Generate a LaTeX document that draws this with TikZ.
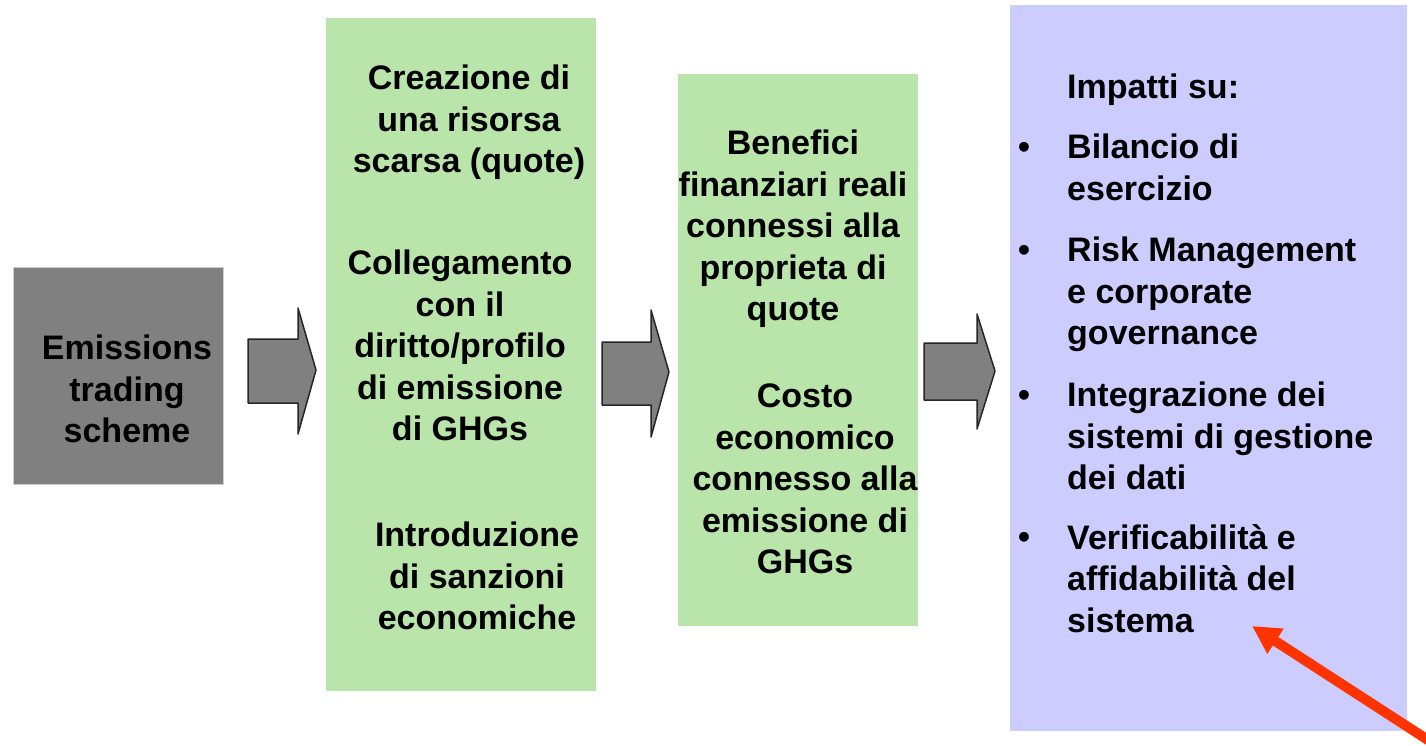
\documentclass[tikz,border=0pt]{standalone}
\usepackage{fontspec}
\setmainfont{Liberation Sans}
\usetikzlibrary{arrows.meta}
\definecolor{boxgreen}{RGB}{185,228,170}
\definecolor{boxpurple}{RGB}{204,204,255}
\definecolor{arrowgray}{RGB}{128,128,128}
\definecolor{redarrow}{RGB}{255,51,0}
\definecolor{graybox}{RGB}{128,128,128}
\definecolor{grayedge}{RGB}{205,205,205}
\begin{document}
\begin{tikzpicture}[x=1pt,y=-1pt,
  panel/.style={inner sep=0pt, outer sep=0pt, anchor=north west},
  txt/.style={inner sep=0pt, font=\fontsize{34}{41.5}\selectfont\bfseries, align=center, anchor=north},
  ltxt/.style={inner sep=0pt, font=\fontsize{34}{41.5}\selectfont\bfseries, align=left, anchor=north west},
  bul/.style={inner sep=0pt, font=\fontsize{34}{41.5}\selectfont\bfseries, anchor=base},
  blockarrow/.style={fill=arrowgray, draw=black!85, line width=1.5pt, line join=round},
  redarr/.style={draw=redarrow, line width=10pt, -{Triangle[length=28pt,width=28pt]}}
]
\useasboundingbox (0,0) rectangle (1426,746);
\clip (0,0) rectangle (1426,746);
\fill[white] (0,0) rectangle (1426,746);

% panels
\node[panel, fill=graybox, draw=grayedge, line width=0.8pt, minimum width=210pt, minimum height=217pt] (ets) at (13,267) {};
\node[panel, fill=boxgreen, minimum width=270pt, minimum height=673pt] (g1) at (326,18) {};
\node[panel, fill=boxgreen, minimum width=240pt, minimum height=552pt] (g2) at (678,74) {};
\node[panel, fill=boxpurple, minimum width=397pt, minimum height=726pt] (pu) at (1010,5) {};

% texts
\node[txt] (etstxt) at (127,335) {Emissions\\trading\\scheme};
\node[txt] (t1) at (469,65) {Creazione di\\una risorsa\\scarsa (quote)};
\node[txt] (t2) at (460,250) {Collegamento\\con il\\diritto/profilo\\di emissione\\di GHGs};
\node[txt] (t3) at (477,522) {Introduzione\\di sanzioni\\economiche};
\node[txt] (t4) at (793,130) {Benefici\\finanziari reali\\connessi alla\\proprieta di\\quote};
\node[txt] (t5) at (805,384) {Costo\\economico\\connesso alla\\emissione di\\GHGs};

\node[ltxt] (imp) at (1067,74) {Impatti su:};
\node[bul] (b1) at (1024,158.5) {•};
\node[ltxt] (i1) at (1067,134) {Bilancio di\\esercizio};
\node[bul] (b2) at (1024,261.5) {•};
\node[ltxt] (i2) at (1067,237) {Risk Management\\e corporate\\governance};
\node[bul] (b3) at (1024,406.5) {•};
\node[ltxt] (i3) at (1067,382) {Integrazione dei\\sistemi di gestione\\dei dati};
\node[bul] (b4) at (1024,548.5) {•};
\node[ltxt] (i4) at (1067,524) {Verificabilità e\\affidabilità del\\sistema};

% block arrows
\draw[blockarrow] (248,339) -- (298,339) -- (298,308) -- (316,370) -- (298,434) -- (298,403) -- (248,403) -- cycle;
\draw[blockarrow] (602,342) -- (651,342) -- (651,310) -- (669,372) -- (651,437) -- (651,405) -- (602,405) -- cycle;
\draw[blockarrow] (924,343) -- (977,343) -- (977,314) -- (995,371) -- (977,429) -- (977,400) -- (924,400) -- cycle;

% red arrow
\coordinate (redtail) at (1445,751);
\coordinate (redtip) at (1252,626);
\draw[redarr] (redtail) -- (redtip);
\end{tikzpicture}
\end{document}
